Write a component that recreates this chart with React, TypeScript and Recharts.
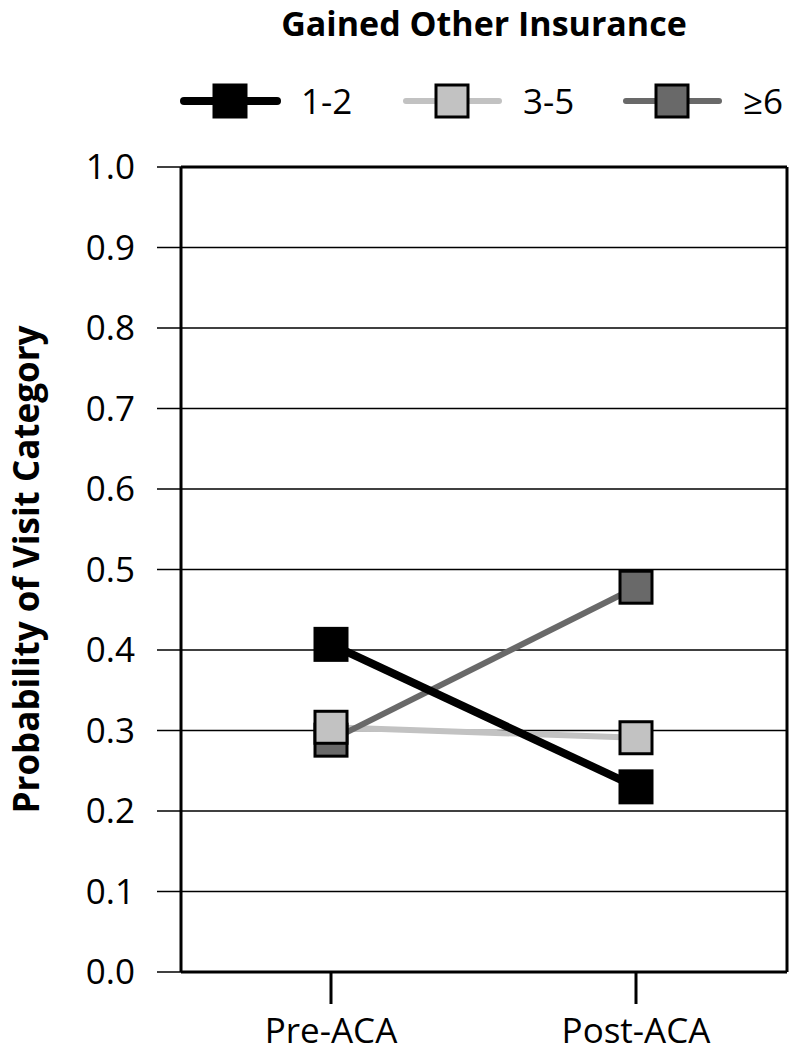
import { LineChart, Line, XAxis, YAxis, CartesianGrid, ReferenceLine } from 'recharts'

const periods = ['Pre-ACA', 'Post-ACA']
const visits12 = [0.407, 0.23]
const visits35 = [0.304, 0.291]
const visits6 = [0.288, 0.478]
const yTicks = [0, 0.1, 0.2, 0.3, 0.4, 0.5, 0.6, 0.7, 0.8, 0.9, 1.0]

const series = [
  { key: 'v12', name: '1-2', color: '#000000', width: 8 },
  { key: 'v35', name: '3-5', color: '#c2c2c2', width: 6 },
  { key: 'v6', name: '\u22656', color: '#696969', width: 6 },
]

const data = periods.map((p, i) => ({
  period: p,
  v12: visits12[i],
  v35: visits35[i],
  v6: visits6[i],
}))

const FONT = '"Open Sans", sans-serif'

const squareDot = (color: string) => (props: any) => {
  const { cx, cy, index } = props
  if (cx == null || cy == null) return <g key={index} />
  return (
    <rect
      key={index}
      x={cx - 16}
      y={cy - 16}
      width={32}
      height={32}
      fill={color}
      stroke="#000"
      strokeWidth={3}
    />
  )
}

function Header() {
  const starts = [180, 402, 622]
  return (
    <svg
      width={792}
      height={140}
      style={{ position: 'absolute', left: 0, top: 0 }}
      fontFamily={FONT}
    >
      <text x={484} y={36} textAnchor="middle" fontSize={34} fontWeight="bold">
        Gained Other Insurance
      </text>
      {series.map((s, i) => (
        <g key={s.key}>
          <line
            x1={starts[i] + 4}
            x2={starts[i] + 97}
            y1={101}
            y2={101}
            stroke={s.color}
            strokeWidth={s.width}
            strokeLinecap="round"
          />
          <rect
            x={starts[i] + 34}
            y={85}
            width={32}
            height={32}
            fill={s.color}
            stroke="#000"
            strokeWidth={3}
          />
          <text x={starts[i] + 121} y={114} fontSize={35}>
            {s.name}
          </text>
        </g>
      ))}
    </svg>
  )
}

export default function App() {
  const lineOrder = [series[1], series[2], series[0]]
  const dotOrder = [series[0], series[2], series[1]]
  return (
    <div style={{ position: 'absolute', left: 0, top: 0, width: 792, height: 1056, background: '#fff' }}>
      <Header />
      <LineChart
        width={792}
        height={1056}
        data={data}
        margin={{ top: 167, right: 0, bottom: 0, left: 0 }}
        style={{ fontFamily: FONT }}
      >
        <CartesianGrid vertical={false} stroke="#000" strokeWidth={1.5} />
        <XAxis
          dataKey="period"
          height={84}
          padding={{ left: 150, right: 151 }}
          axisLine={{ stroke: '#000', strokeWidth: 3 }}
          tickLine={{ stroke: '#000', strokeWidth: 3 }}
          tickSize={32}
          tickMargin={14}
          tick={{ fill: '#000', fontSize: 35 }}
        />
        <YAxis
          width={181}
          domain={[0, 1]}
          ticks={yTicks}
          tickFormatter={(v: number) => v.toFixed(1)}
          axisLine={{ stroke: '#000', strokeWidth: 3 }}
          tickLine={{ stroke: '#000', strokeWidth: 1.5 }}
          tickSize={24}
          tickMargin={22}
          tick={{ fill: '#000', fontSize: 35 }}
          label={{
            value: 'Probability of Visit Category',
            angle: -90,
            position: 'center',
            dx: -64,
            style: { fontSize: 35, fontWeight: 'bold', fill: '#000', fontFamily: FONT },
          }}
        />
        <YAxis
          yAxisId="right"
          orientation="right"
          width={5}
          domain={[0, 1]}
          tick={false}
          tickLine={false}
          axisLine={{ stroke: '#000', strokeWidth: 3 }}
        />
        <ReferenceLine y={1} stroke="#000" strokeWidth={3} />
        {lineOrder.map((s) => (
          <Line
            key={'l' + s.key}
            dataKey={s.key}
            stroke={s.color}
            strokeWidth={s.width}
            dot={false}
            activeDot={false}
            isAnimationActive={false}
          />
        ))}
        {dotOrder.map((s) => (
          <Line
            key={'d' + s.key}
            dataKey={s.key}
            stroke="none"
            strokeWidth={0}
            dot={squareDot(s.color)}
            activeDot={false}
            isAnimationActive={false}
          />
        ))}
      </LineChart>
    </div>
  )
}
